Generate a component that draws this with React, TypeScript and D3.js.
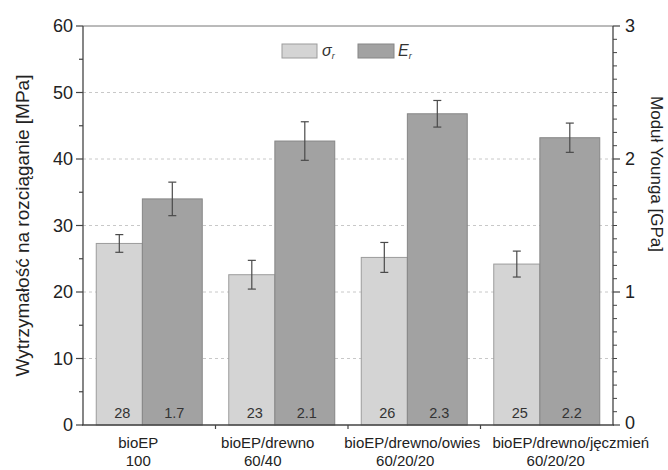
import React from "react";
import * as d3 from "d3";

const categories = ["bioEP", "bioEP/drewno", "bioEP/drewno/owies", "bioEP/drewno/jęczmień"];
const categorySub = ["100", "60/40", "60/20/20", "60/20/20"];
const sigmaValues = [27.3, 22.6, 25.2, 24.2];
const sigmaErrors = [1.33, 2.16, 2.25, 1.95];
const eValues = [1.7, 2.135, 2.34, 2.16];
const eErrors = [0.126, 0.145, 0.1, 0.11];
const sigmaLabels = ["28", "23", "26", "25"];
const eLabels = ["1.7", "2.1", "2.3", "2.2"];
const leftTicks = [0, 10, 20, 30, 40, 50, 60];
const leftMinor = [5, 15, 25, 35, 45, 55];
const rightTicks = [0, 1, 2, 3];
const rightMinor = d3.range(1, 30).filter((v) => v % 10 !== 0).map((v) => v / 10);
const gridValues = [10, 20, 30, 40, 50];

const W = 668;
const H = 470;
const L = 83;
const R = 613;
const T = 26;
const B = 425;
const FONT = "'Liberation Sans', Arial, sans-serif";
const SIGMA_FRAC = 0.435;
// horizontal shifts of the two label lines relative to band centres (layout only)
const LINE1_DX = [-11, -14, -2, 24];
const LINE2_DX = [-11, -19, -9, 9];

export default function App() {
  const x = d3.scaleBand<string>().domain(categories).range([L, R]).paddingInner(0.2).paddingOuter(0.1);
  const yL = d3.scaleLinear().domain([0, 60]).range([B, T]);
  const yR = d3.scaleLinear().domain([0, 3]).range([B, T]);
  const bw = x.bandwidth();
  const sw = bw * SIGMA_FRAC;
  const ew = bw - sw;
  const step = x.step();
  const boundaries = categories.slice(1).map((c) => (x(c) as number) - (step - bw) / 2);
  const capW = 4;
  const errColor = "#4a4a4a";

  return (
    <svg width={W} height={H} style={{ position: "absolute", left: 0, top: 0, background: "#fff" }} fontFamily={FONT}>
      <rect x={0} y={0} width={W} height={H} fill="#fff" />
      {/* grid */}
      {gridValues.map((v) => (
        <line key={"g" + v} x1={L} x2={R} y1={yL(v)} y2={yL(v)} stroke="#c8c8c8" strokeDasharray="3,3" strokeWidth={1} />
      ))}
      {/* bars */}
      {categories.map((c, i) => {
        const x0 = x(c) as number;
        return (
          <g key={c}>
            <rect x={x0} y={yL(sigmaValues[i])} width={sw} height={B - yL(sigmaValues[i])} fill="#d4d4d4" stroke="#9c9c9c" strokeWidth={1} />
            <rect x={x0 + sw} y={yR(eValues[i])} width={ew} height={B - yR(eValues[i])} fill="#a2a2a2" stroke="#868686" strokeWidth={1} />
          </g>
        );
      })}
      {/* error bars */}
      {categories.map((c, i) => {
        const x0 = x(c) as number;
        const cs = x0 + sw / 2;
        const ce = x0 + sw + ew / 2;
        const s1 = yL(sigmaValues[i] + sigmaErrors[i]);
        const s2 = yL(sigmaValues[i] - sigmaErrors[i]);
        const e1 = yR(eValues[i] + eErrors[i]);
        const e2 = yR(eValues[i] - eErrors[i]);
        return (
          <g key={"e" + c} stroke={errColor} strokeWidth={1.2}>
            <line x1={cs} x2={cs} y1={s1} y2={s2} />
            <line x1={cs - capW} x2={cs + capW} y1={s1} y2={s1} />
            <line x1={cs - capW} x2={cs + capW} y1={s2} y2={s2} />
            <line x1={ce} x2={ce} y1={e1} y2={e2} />
            <line x1={ce - capW} x2={ce + capW} y1={e1} y2={e1} />
            <line x1={ce - capW} x2={ce + capW} y1={e2} y2={e2} />
          </g>
        );
      })}
      {/* value labels */}
      {categories.map((c, i) => {
        const x0 = x(c) as number;
        return (
          <g key={"v" + c} fontSize={14.5} fill="#333" textAnchor="middle">
            <text x={x0 + sw / 2 + 3} y={B - 7}>{sigmaLabels[i]}</text>
            <text x={x0 + sw + ew / 2 + 2} y={B - 7}>{eLabels[i]}</text>
          </g>
        );
      })}
      {/* frame */}
      <line x1={L} x2={R} y1={T} y2={T} stroke="#777" strokeWidth={1} />
      <line x1={L} x2={L} y1={T} y2={B} stroke="#444" strokeWidth={1.3} />
      <line x1={R} x2={R} y1={T} y2={B} stroke="#444" strokeWidth={1.3} />
      <line x1={L - 1} x2={R + 1} y1={B} y2={B} stroke="#444" strokeWidth={1.3} />
      {/* left axis */}
      {leftTicks.map((v) => (
        <g key={"lt" + v}>
          <line x1={L - 7} x2={L} y1={yL(v)} y2={yL(v)} stroke="#444" strokeWidth={1.2} />
          <text x={L - 10} y={yL(v)} dy="0.35em" textAnchor="end" fontSize={18} fill="#222">{v}</text>
        </g>
      ))}
      {leftMinor.map((v) => (
        <line key={"lm" + v} x1={L - 4} x2={L} y1={yL(v)} y2={yL(v)} stroke="#444" strokeWidth={1.2} />
      ))}
      {/* right axis */}
      {rightTicks.map((v) => (
        <g key={"rt" + v}>
          <line x1={R} x2={R + 7} y1={yR(v)} y2={yR(v)} stroke="#444" strokeWidth={1.2} />
          <text x={R + 12} y={yR(v)} dy={v === 0 ? "0.22em" : "0.35em"} textAnchor="start" fontSize={18} fill="#222">{v}</text>
        </g>
      ))}
      {rightMinor.map((v) => (
        <line key={"rm" + v} x1={R} x2={R + 4} y1={yR(v)} y2={yR(v)} stroke="#444" strokeWidth={1} />
      ))}
      {/* bottom minor ticks */}
      {boundaries.map((bx, i) => (
        <line key={"bt" + i} x1={bx} x2={bx} y1={B} y2={B + 4} stroke="#444" strokeWidth={1.2} />
      ))}
      {/* category labels */}
      {categories.map((c, i) => {
        const cx = (x(c) as number) + bw / 2;
        return (
          <g key={"cl" + c} fontSize={15} fill="#222" textAnchor="middle">
            <text x={cx + LINE1_DX[i]} y={B + 23}>{c}</text>
            <text x={cx + LINE2_DX[i]} y={B + 41}>{categorySub[i]}</text>
          </g>
        );
      })}
      {/* axis titles */}
      <text transform={`translate(29,${(T + B) / 2}) rotate(-90)`} textAnchor="middle" fontSize={19} fill="#222">
        Wytrzymałość na rozciąganie [MPa]
      </text>
      <text transform={`translate(651,174) rotate(90)`} textAnchor="middle" fontSize={17} fill="#222">
        Moduł Younga [GPa]
      </text>
      {/* legend */}
      <rect x={282} y={44} width={35} height={14} fill="#d4d4d4" stroke="#9c9c9c" />
      <text x={322} y={56} fontSize={16} fill="#333" fontStyle="italic">
        σ<tspan fontSize={9} dy={3}>r</tspan>
      </text>
      <rect x={358} y={44} width={36} height={14} fill="#a2a2a2" stroke="#868686" />
      <text x={398} y={56} fontSize={16} fill="#333" fontStyle="italic">
        E<tspan fontSize={9} dy={3}>r</tspan>
      </text>
    </svg>
  );
}
